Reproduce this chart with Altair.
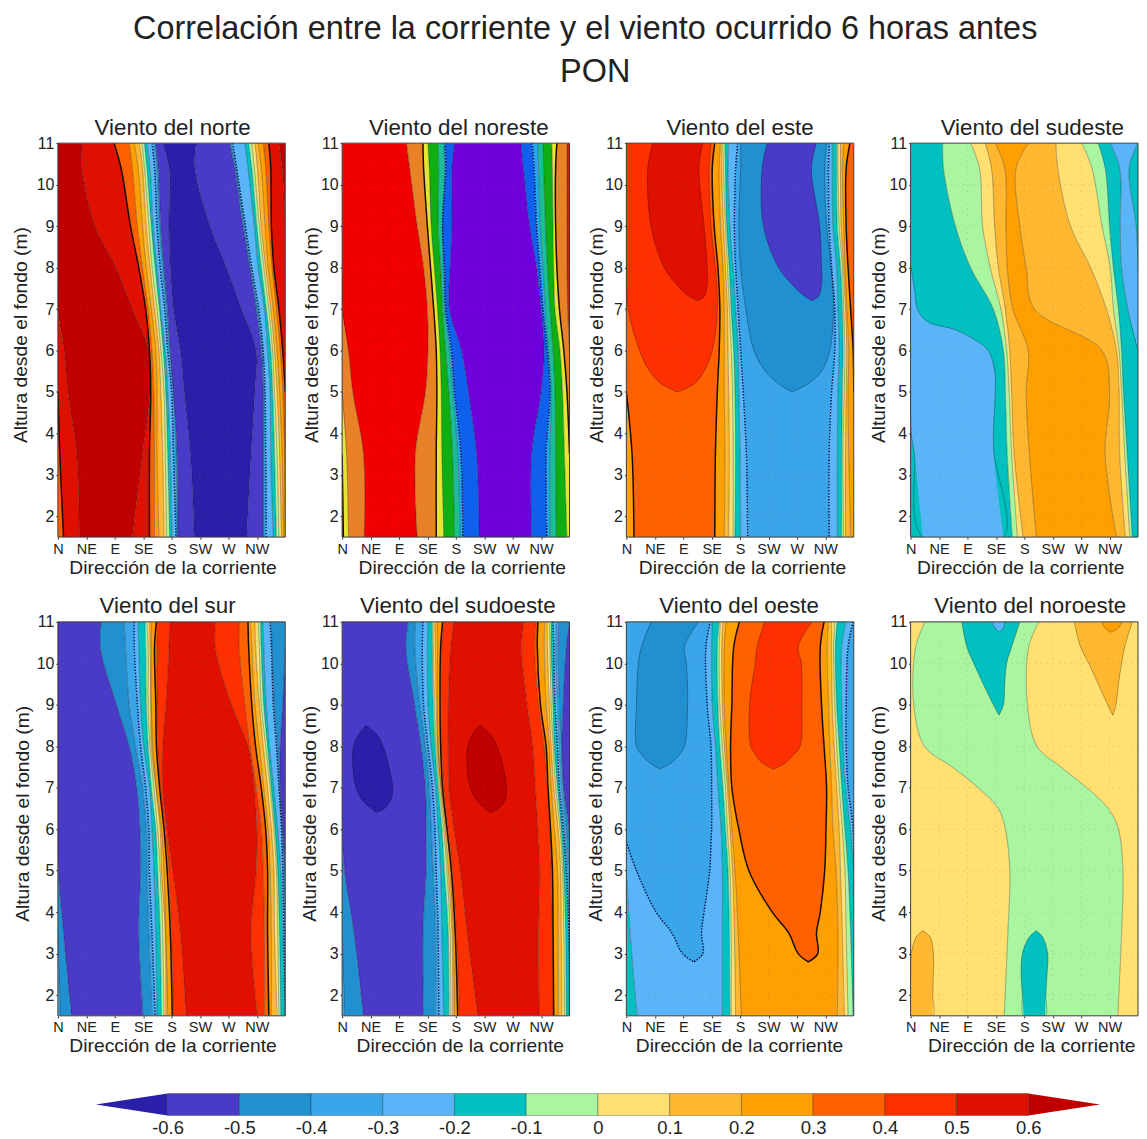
import altair as alt
import pandas as pd

MAIN_TITLE = "Correlación entre la corriente y el viento ocurrido 6 horas antes"
SUB_TITLE = "PON"
DIRS = ["N", "NE", "E", "SE", "S", "SW", "W", "NW"]
DIR_TICKS = [0, 45, 90, 135, 180, 225, 270, 315]
HEIGHT_TICKS = [2, 3, 4, 5, 6, 7, 8, 9, 10, 11]
HEIGHTS = [11, 10.4, 9, 8, 7, 6, 5, 3.5, 1.5]

# colour of each correlation class (0: below -0.6 ... 13: above 0.6), 14+ : the noreste panel's palette
COLORS = ["#2a1fa8", "#4a3ac8", "#2090d0", "#3aa5e8", "#5ab5f8", "#00c0c0", "#aaf5a0",
          "#ffe070", "#ffb830", "#ffa000", "#ff6000", "#ff3000", "#e01000", "#c00000",
          "#f20000", "#e98227", "#e6e632", "#0fae12", "#18c09a", "#22a8e8", "#1060ee", "#6e00dc", "#b83000"]

# ---- Viento del norte
NORTE_BANDS = [10, 12, 13, 12, 10, 9, 8, 7, 6, 5, 4, 3, 2, 1, 0, 1, 2, 3, 4, 5, 6, 7, 8, 9, 10, 12, 13]
NORTE_EDGES = [
    [0, 0, 0, 0, 0, 0, 0, 3, 9],
    [0, 0, 0, 0, 0, 10, 16, 30, 34],
    [39, 38, 59, 92, 118, 144, 146, 134, 118],
    [89, 100, 115, 128, 139, 145, 147, 145, 145],
    [113, 118, 126, 134, 143, 149, 152, 153, 153],
    [121, 127, 134, 140, 148, 155, 157, 157, 160],
    [129, 134, 140, 146, 153, 160, 163, 166, 168],
    [133, 137, 144, 149, 157, 163, 168, 170, 172],
    [137, 141, 148, 154, 161, 167, 171, 174, 177],
    [141, 146, 151, 157, 163, 170, 174, 178, 181],
    [149, 153, 157, 162, 169, 174, 180, 183, 187],
    [153, 157, 161, 166, 172, 177, 183, 187, 189],
    [155, 159, 163, 168, 174, 178, 183, 189, 190],
    [166, 176, 176, 178, 183, 194, 200, 210, 216],
    [219, 217, 241, 267, 291, 314, 312, 306, 299],
    [272, 280, 293, 304, 314, 322, 325, 325, 325],
    [274, 282, 295, 305, 316, 324, 326, 326, 326],
    [277, 283, 297, 307, 318, 325, 328, 329, 330],
    [296, 301, 311, 317, 327, 332, 336, 337, 341],
    [302, 307, 315, 322, 330, 337, 340, 343, 346],
    [307, 311, 319, 326, 334, 340, 343, 347, 350],
    [312, 316, 322, 329, 337, 343, 347, 351, 354],
    [317, 322, 328, 333, 341, 347, 351, 355, 357],
    [325, 329, 334, 339, 346, 352, 356, 359, 360],
    [334, 337, 338, 342, 350, 356, 360, 360, 360],
    [350, 355, 360, 360, 360, 360, 360, 360, 360],
]
NORTE_SOLID = [0, 3, 24]
NORTE_DOTTED = [10, 17]

# ---- Viento del noreste
NORESTE_BANDS = [22, 16, 15, 14, 15, 16, 17, 18, 19, 20, 21, 20, 19, 18, 17, 16, 15, 22]
NORESTE_EDGES = [
    [0, 0, 0, 0, 0, 0, 0, 0, 2],
    [0, 0, 0, 0, 0, 0, 0, 7, 10],
    [0, 0, 0, 0, 0, 10, 17, 34, 35],
    [102, 107, 119, 129, 135, 136, 132, 116, 119],
    [128, 129, 135, 140, 145, 149, 150, 149, 149],
    [136, 138, 141, 146, 151, 155, 157, 158, 161],
    [152, 153, 152, 156, 159, 164, 169, 175, 178],
    [161, 162, 159, 160, 162, 170, 175, 183, 187],
    [163, 164, 159, 162, 164, 173, 178, 188, 191],
    [178, 174, 174, 171, 170, 189, 200, 213, 217],
    [283, 287, 297, 308, 315, 320, 315, 300, 300],
    [301, 304, 308, 313, 318, 325, 329, 323, 324],
    [310, 311, 314, 318, 322, 327, 331, 329, 329],
    [318, 319, 322, 325, 329, 334, 337, 338, 339],
    [332, 333, 334, 335, 337, 345, 349, 352, 356],
    [340, 338, 338, 340, 344, 351, 356, 360, 360],
    [356, 356, 356, 356, 357, 360, 360, 360, 360],
]
NORESTE_SOLID = [0, 4, 15]
NORESTE_DOTTED = [8, 11]

# ---- Viento del este
ESTE_BANDS = [9, 10, 9, 8, 7, 6, 5, 4, 3, 4, 5, 6, 7, 8, 9, 10]
ESTE_EDGES = [
    [0, 0, 0, 0, 0, 0, 0, 9, 12],
    [140, 136, 139, 145, 148, 147, 144, 141, 140],
    [149, 147, 149, 153, 155, 155, 155, 156, 155],
    [152, 151, 154, 157, 160, 161, 162, 163, 162],
    [155, 154, 157, 160, 163, 166, 168, 169, 169],
    [157, 157, 159, 163, 166, 170, 172, 173, 172],
    [162, 161, 164, 169, 173, 177, 178, 180, 181],
    [176, 173, 171, 173, 177, 181, 185, 190, 192],
    [321, 320, 321, 325, 330, 330, 325, 321, 321],
    [326, 326, 327, 333, 335, 337, 335, 334, 334],
    [333, 333, 334, 339, 342, 343, 342, 341, 341],
    [335, 335, 337, 342, 344, 346, 345, 343, 344],
    [339, 339, 340, 344, 347, 349, 348, 347, 347],
    [344, 342, 344, 346, 349, 352, 351, 352, 355],
    [354, 348, 348, 351, 355, 359, 360, 360, 360],
]
ESTE_SOLID = [0, 1, 14]
ESTE_DOTTED = [7, 8]
ESTE_BLOBS = [
    (11, [11, 10.4, 9, 8, 7, 6, 5.5, 5.2, 5], [0, 0, 0, 0, 3, 21, 37, 55, 81], [134, 131, 134, 141, 144, 136, 123, 108, 81]),
    (12, [11, 10.4, 9, 8, 7.6, 7.3, 7.2], [42, 34, 39, 60, 79, 100, 113], [121, 115, 123, 128, 128, 123, 113]),
    (2, [11, 10.4, 9, 8, 7, 6, 5.5, 5.2, 5], [181, 181, 178, 181, 189, 202, 220, 241, 262], [317, 314, 317, 324, 328, 322, 309, 288, 262]),
    (1, [11, 10.4, 9, 8, 7.6, 7.3, 7.2], [223, 215, 217, 241, 262, 283, 293], [301, 293, 306, 309, 309, 304, 293]),
]

# ---- Viento del sudeste
SUDESTE_BANDS = [5, 6, 7, 8, 9, 8, 7, 6, 5, 4, 5]
SUDESTE_EDGES = [
    [51, 52, 71, 95, 131, 147, 150, 153, 161],
    [95, 109, 114, 126, 143, 152, 156, 160, 169],
    [118, 128, 133, 139, 150, 157, 160, 164, 178],
    [134, 149, 151, 153, 162, 186, 183, 188, 199],
    [187, 167, 173, 183, 196, 303, 315, 308, 326],
    [230, 233, 253, 285, 310, 326, 330, 331, 340],
    [271, 287, 303, 316, 321, 330, 334, 339, 347],
    [297, 308, 315, 321, 329, 334, 337, 343, 351],
    [316, 331, 332, 334, 344, 360, 360, 360, 360],
    [360, 346, 357, 360, 360, 360, 360, 360, 360],
]
SUDESTE_SOLID = []
SUDESTE_DOTTED = []
SUDESTE_BLOBS = [
    (4, [8, 7.5, 7, 6.7, 6.5, 6.3, 6, 5.5, 5, 4, 3.5, 1.5], [0, 0, 0, 0, 0, 0, 0, 0, 0, 1, 6, 19],
     [1, 6, 11, 26, 71, 97, 123, 133, 134, 131, 132, 147]),
]

# ---- Viento del sur
SUR_BANDS = [3, 2, 1, 2, 3, 4, 5, 6, 7, 8, 9, 10, 11, 12, 11, 10, 9, 8, 7, 6, 5, 4, 3, 2, 1]
SUR_EDGES = [
    [0, 0, 0, 0, 0, 0, 0, 0, 4],
    [0, 0, 0, 0, 0, 0, 1, 9, 22],
    [69, 67, 93, 113, 125, 130, 131, 128, 135],
    [105, 107, 113, 123, 134, 140, 141, 144, 149],
    [121, 121, 126, 131, 139, 144, 145, 149, 154],
    [127, 128, 131, 136, 145, 149, 152, 155, 157],
    [138, 139, 140, 143, 148, 155, 158, 162, 164],
    [141, 143, 143, 146, 152, 158, 162, 166, 168],
    [145, 146, 147, 148, 155, 162, 164, 170, 171],
    [148, 148, 148, 150, 156, 164, 168, 171, 174],
    [156, 153, 155, 156, 161, 168, 173, 178, 181],
    [158, 157, 157, 158, 162, 170, 176, 180, 183],
    [177, 176, 171, 166, 166, 173, 182, 194, 203],
    [250, 249, 275, 301, 311, 315, 314, 306, 316],
    [287, 287, 296, 304, 314, 322, 325, 327, 327],
    [301, 302, 307, 313, 322, 329, 332, 332, 334],
    [305, 307, 312, 319, 326, 333, 336, 338, 338],
    [312, 313, 319, 325, 332, 338, 342, 343, 347],
    [317, 319, 322, 329, 336, 342, 346, 348, 350],
    [321, 322, 326, 332, 338, 344, 348, 351, 353],
    [325, 326, 330, 335, 342, 348, 353, 356, 360],
    [336, 338, 341, 346, 350, 354, 356, 358, 360],
    [338, 339, 343, 348, 351, 355, 358, 360, 360],
    [360, 360, 356, 352, 352, 356, 360, 360, 360],
]
SUR_SOLID = [10, 15]
SUR_DOTTED = [4, 21]

# ---- Viento del sudoeste
SUDOESTE_BANDS = [3, 2, 1, 2, 3, 4, 5, 6, 7, 8, 9, 10, 11, 12, 11, 10, 9, 8, 7, 6, 5, 4, 3, 2, 1]
SUDOESTE_EDGES = [
    [0, 0, 0, 0, 0, 0, 0, 0, 4],
    [0, 0, 0, 0, 0, 0, 4, 19, 34],
    [105, 101, 115, 125, 132, 133, 133, 128, 129],
    [116, 115, 123, 132, 138, 141, 144, 148, 148],
    [128, 127, 129, 136, 143, 147, 149, 152, 153],
    [136, 135, 136, 141, 148, 152, 156, 158, 161],
    [143, 143, 144, 147, 152, 158, 162, 168, 169],
    [146, 145, 146, 149, 154, 161, 166, 171, 172],
    [148, 148, 149, 151, 156, 163, 168, 174, 175],
    [151, 151, 151, 152, 157, 166, 171, 176, 178],
    [159, 156, 155, 156, 159, 166, 173, 179, 183],
    [161, 158, 157, 158, 161, 168, 175, 181, 186],
    [177, 172, 168, 168, 169, 177, 187, 198, 215],
    [288, 284, 293, 302, 306, 310, 313, 311, 312],
    [308, 305, 311, 320, 325, 329, 331, 333, 334],
    [310, 309, 314, 323, 326, 330, 333, 334, 335],
    [321, 320, 323, 328, 331, 336, 341, 342, 342],
    [325, 325, 328, 331, 335, 342, 346, 347, 348],
    [328, 329, 331, 334, 338, 345, 349, 351, 352],
    [331, 331, 334, 336, 341, 347, 351, 354, 355],
    [334, 335, 337, 341, 344, 350, 355, 359, 360],
    [339, 338, 341, 344, 347, 352, 357, 360, 360],
    [343, 342, 344, 347, 350, 355, 360, 360, 360],
    [360, 355, 350, 348, 351, 359, 360, 360, 360],
]
SUDOESTE_SOLID = [10, 15]
SUDOESTE_DOTTED = [4, 20]
SUDOESTE_BLOBS = [
    (0, [8.5, 8.3, 8, 7.5, 7, 6.7, 6.5, 6.4], [38, 27, 18, 17, 22, 32, 46, 54], [38, 54, 65, 74, 80, 77, 67, 54]),
    (13, [8.5, 8.3, 8, 7.5, 7, 6.7, 6.5, 6.4], [218, 207, 199, 198, 203, 213, 226, 236], [218, 234, 245, 255, 260, 258, 247, 236]),
]

# ---- Viento del oeste
OESTE_BANDS = [5, 4, 5, 6, 7, 8, 9, 8, 7, 6, 5, 4, 3]
OESTE_EDGES = [
    [0, 0, 0, 0, 0, 0, 0, 6, 17],
    [136, 135, 136, 141, 145, 150, 152, 152, 152],
    [147, 144, 145, 148, 153, 157, 161, 163, 164],
    [149, 147, 148, 152, 157, 160, 164, 166, 166],
    [153, 151, 152, 155, 160, 164, 168, 171, 173],
    [158, 155, 155, 158, 162, 167, 172, 177, 182],
    [320, 318, 320, 322, 325, 327, 332, 335, 334],
    [325, 325, 326, 329, 333, 337, 339, 342, 345],
    [330, 328, 330, 333, 337, 342, 346, 348, 351],
    [334, 331, 333, 337, 341, 346, 351, 355, 359],
    [348, 341, 341, 343, 347, 355, 360, 360, 360],
    [359, 351, 348, 348, 351, 359, 360, 360, 360],
]
OESTE_SOLID = []
OESTE_DOTTED = [11]
OESTE_BLOBS = [
    (3, [11, 10.4, 9, 8, 7, 6, 5.7, 5, 4, 3.5, 3, 2.8], [0, 0, 0, 0, 0, 0, 0, 16, 47, 72, 89, 107],
     [133, 126, 128, 134, 135, 135, 134, 132, 123, 119, 121, 107]),
    (2, [11, 10.4, 10, 9, 8, 7.8, 7.6, 7.45], [39, 24, 19, 16, 16, 24, 37, 53], [114, 92, 95, 97, 92, 84, 71, 53]),
    (10, [11, 10.4, 9, 8, 7, 6, 5, 4, 3.5, 3, 2.8], [179, 170, 167, 165, 167, 178, 194, 231, 257, 272, 288],
     [313, 307, 309, 313, 317, 316, 314, 307, 301, 303, 288]),
    (11, [11, 10.4, 10, 9, 8, 7.8, 7.6, 7.45], [219, 207, 204, 195, 197, 204, 215, 233], [294, 272, 277, 278, 275, 265, 252, 233]),
]

# ---- Viento del noroeste
NOROESTE_HEIGHTS = [11, 10.4, 9, 8, 7.5, 7, 6.5, 6, 5, 3.5, 1.5]
NOROESTE_BANDS = [7, 6, 7]
NOROESTE_EDGES = [
    [23, 8, 5, 22, 66, 107, 139, 150, 157, 154, 148],
    [203, 187, 185, 200, 238, 279, 313, 329, 336, 334, 328],
]
NOROESTE_BLOBS = [
    (5, [11, 10.4, 10, 9.5, 9, 8.75], [81, 89, 100, 115, 131, 140], [173, 160, 152, 149, 147, 140]),
    (4, [11, 10.85, 10.75], [128, 134, 140], [149, 147, 140]),
    (8, [11, 10.4, 10, 9.5, 9, 8.75], [259, 269, 282, 297, 312, 320], [351, 339, 334, 329, 325, 320]),
    (9, [11, 10.85, 10.75], [303, 308, 316], [334, 329, 316]),
    (8, [3.55, 3.4, 3, 2.5, 2, 1.5], [19, 9, 1, 0, 0, 0], [19, 31, 36, 36, 35, 35]),
    (5, [3.55, 3.4, 3, 2.5, 2, 1.5], [199, 188, 177, 175, 177, 179], [199, 209, 217, 216, 214, 213]),
]

PANELS = [
    dict(name="Viento del norte", bands=NORTE_BANDS, edges=NORTE_EDGES, solid=NORTE_SOLID, dotted=NORTE_DOTTED),
    dict(name="Viento del noreste", bands=NORESTE_BANDS, edges=NORESTE_EDGES, solid=NORESTE_SOLID, dotted=NORESTE_DOTTED),
    dict(name="Viento del este", bands=ESTE_BANDS, edges=ESTE_EDGES, solid=ESTE_SOLID, dotted=ESTE_DOTTED, blobs=ESTE_BLOBS),
    dict(name="Viento del sudeste", bands=SUDESTE_BANDS, edges=SUDESTE_EDGES, solid=SUDESTE_SOLID, dotted=SUDESTE_DOTTED, blobs=SUDESTE_BLOBS),
    dict(name="Viento del sur", bands=SUR_BANDS, edges=SUR_EDGES, solid=SUR_SOLID, dotted=SUR_DOTTED),
    dict(name="Viento del sudoeste", bands=SUDOESTE_BANDS, edges=SUDOESTE_EDGES, solid=SUDOESTE_SOLID, dotted=SUDOESTE_DOTTED, blobs=SUDOESTE_BLOBS),
    dict(name="Viento del oeste", bands=OESTE_BANDS, edges=OESTE_EDGES, solid=OESTE_SOLID, dotted=OESTE_DOTTED, blobs=OESTE_BLOBS),
    dict(name="Viento del noroeste", bands=NOROESTE_BANDS, edges=NOROESTE_EDGES, heights=NOROESTE_HEIGHTS, blobs=NOROESTE_BLOBS),
]

# colour bar
CB_LIMITS = [-0.6, -0.5, -0.4, -0.3, -0.2, -0.1, 0, 0.1, 0.2, 0.3, 0.4, 0.5, 0.6]
CB_LABELS = ["-0.6", "-0.5", "-0.4", "-0.3", "-0.2", "-0.1", "0", "0.1", "0.2", "0.3", "0.4", "0.5", "0.6"]

FONT = "Liberation Sans"
TEXT = "#222222"
PW, PH = 228, 395
XDOM = [0, 360]
YDOM = [1.5, 11]
CURVE = "catmull-rom"

# per-panel nudges of the titles (the original figure was pasted together by hand)
TITLE_DX = [1, 3, 0, 8, -4, 2, -1, 6]
XT_X = [115, 120, 116, 110, 115, 118, 113, 121]
YT_X = [-27, -21, -20, -22, -25, -23, -21, -22]


def line_rows(xs, ys, key):
    rows = []
    n = len(xs)
    for i in range(n):
        inner = lambda k: 0 < xs[k] < 360
        keep = inner(i) or (i > 0 and inner(i - 1)) or (i < n - 1 and inner(i + 1))
        if keep:
            rows.append(dict(key=key, i=i, x=xs[i], y=ys[i]))
    return rows


def panel(p, idx):
    heights = p.get("heights", HEIGHTS)
    area_rows = []
    thin, solid, dotted = [], [], []
    edges = p["edges"]
    for b, lev in enumerate(p["bands"]):
        for h, y in enumerate(heights):
            left = edges[b - 1][h] if b > 0 else 0
            right = edges[b][h] if b < len(edges) else 360
            area_rows.append(dict(key=b, color=COLORS[lev], y=y, x=left, x2=right))
    for e, xs in enumerate(edges):
        rows = line_rows(xs, heights, f"e{e}")
        if e in p.get("solid", []):
            solid += rows
        elif e in p.get("dotted", []):
            dotted += rows
        else:
            thin += rows

    xsc = alt.Scale(domain=XDOM, nice=False, zero=False)
    ysc = alt.Scale(domain=YDOM, nice=False, zero=False)
    label_expr = "[" + ",".join(f"'{d}'" for d in DIRS) + "][datum.value / 45]"
    xax = alt.Axis(values=DIR_TICKS, labelExpr=label_expr, title="Dirección de la corriente", grid=False,
                   tickSize=2, tickColor=TEXT, domain=False, labelFont=FONT, labelFontSize=14.5, labelColor=TEXT,
                   labelPadding=3, labelOverlap=False, labelFlush=False, titleFont=FONT, titleFontSize=19.3, titleFontWeight="normal",
                   titleColor=TEXT, titleX=XT_X[idx], titleY=30, titleBaseline="middle")
    yax = alt.Axis(values=HEIGHT_TICKS, title="Altura desde el fondo (m)", grid=False, tickSize=2, tickColor=TEXT,
                   domain=False, labelFont=FONT, labelFontSize=16, labelColor=TEXT, labelPadding=2, labelOverlap=False,
                   labelFlush=False, titleFont=FONT, titleFontSize=19.3, titleFontWeight="normal", titleColor=TEXT,
                   titleX=YT_X[idx], titleY=192)
    X = alt.X("x:Q", scale=xsc, axis=xax)
    Y = alt.Y("y:Q", scale=ysc, axis=yax)

    base = alt.Chart(pd.DataFrame(area_rows)).mark_area(orient="horizontal", stroke=None, interpolate=CURVE, clip=True).encode(
        x=X, x2="x2:Q", y=Y, color=alt.Color("color:N", scale=None), detail="key:N")
    layers = [base]

    def add_lines(rows, **kw):
        if rows:
            layers.append(alt.Chart(pd.DataFrame(rows)).mark_line(interpolate=CURVE, clip=True, **kw).encode(
                x=X, y=Y, detail="key:N", order="i:Q"))

    add_lines(thin, color="#000000", opacity=0.33, strokeWidth=0.9)
    for b, (lev, hs, ls, rs) in enumerate(p.get("blobs", [])):
        d = pd.DataFrame(dict(y=hs, x=ls, x2=rs))
        layers.append(alt.Chart(d).mark_area(orient="horizontal", color=COLORS[lev], interpolate=CURVE, clip=True).encode(
            x=X, x2="x2:Q", y=Y))
        xs = list(ls) + list(rs)[::-1]
        ys = list(hs) + list(hs)[::-1]
        rows = [r for r in line_rows(xs, ys, f"b{b}")]
        if lev == 3:
            dotted += rows
        elif lev == 10:
            solid += rows
        else:
            add_lines(rows, color="#000000", opacity=0.33, strokeWidth=0.9)
    add_lines(solid, color="#1a0a00", strokeWidth=1.5)
    add_lines(dotted, color="#04104a", strokeWidth=1.4, strokeDash=[1.5, 1.5])

    grid_v = alt.Chart(pd.DataFrame(dict(x=DIR_TICKS[1:]))).mark_rule(color="#707070", opacity=0.35, strokeWidth=1, strokeDash=[1, 5]).encode(x=X)
    grid_h = alt.Chart(pd.DataFrame(dict(y=HEIGHT_TICKS[:-1]))).mark_rule(color="#707070", opacity=0.35, strokeWidth=1, strokeDash=[1, 5]).encode(y=Y)
    frame = alt.Chart(pd.DataFrame(dict(x=[XDOM[0]], x2=[XDOM[1]], y=[YDOM[0]], y2=[YDOM[1]]))).mark_rect(
        fill=None, stroke="#3a3a3a", strokeWidth=1).encode(x=X, x2="x2:Q", y=Y, y2="y2:Q")
    layers += [grid_v, grid_h, frame]
    return alt.layer(*layers).properties(
        width=PW, height=PH,
        title=alt.TitleParams(p["name"], font=FONT, fontSize=22.4, fontWeight="normal", color=TEXT, offset=0, dy=4,
                              anchor="middle", dx=TITLE_DX[idx]))


grid = alt.concat(*[panel(p, i) for i, p in enumerate(PANELS)], columns=4,
                  spacing={"row": 85, "column": 57}, bounds="flush").properties(
    title=alt.TitleParams(SUB_TITLE, font=FONT, fontSize=32.5, fontWeight="normal", color=TEXT, anchor="middle", offset=28, dx=20))

# colour bar
cb_x = alt.Scale(domain=[-0.753, 0.753], nice=False, zero=False)
cb_y = alt.Scale(domain=[0, 1], nice=False)
cb_rows = [dict(a=CB_LIMITS[i], b=CB_LIMITS[i + 1], color=COLORS[i + 1]) for i in range(12)]
labels_expr = "[" + ",".join(f"'{t}'" for t in CB_LABELS) + "][round((datum.value + 0.6) * 10)]"
CBX = alt.X("a:Q", scale=cb_x, axis=alt.Axis(values=CB_LIMITS, labelExpr=labels_expr, title=None, domain=False, ticks=False,
                                             labelFont=FONT, labelFontSize=18.5, labelColor=TEXT, labelPadding=3, labelFlush=False,
                                             labelOverlap=False, grid=False))
CBY = alt.Y("lo:Q", scale=cb_y, axis=None)
bars = alt.Chart(pd.DataFrame([dict(r, lo=0, hi=1) for r in cb_rows])).mark_rect(stroke="#000000", strokeOpacity=0.35, strokeWidth=0.8).encode(
    x=CBX, x2="b:Q", y=CBY, y2="hi:Q", color=alt.Color("color:N", scale=None))
tri_l = alt.Chart(pd.DataFrame(dict(a=[-0.7, -0.6], lo=[0.5, 0], hi=[0.5, 1]))).mark_area(color=COLORS[0]).encode(
    x=CBX, y=CBY, y2="hi:Q")
tri_r = alt.Chart(pd.DataFrame(dict(a=[0.6, 0.7], lo=[0, 0.5], hi=[1, 0.5]))).mark_area(color=COLORS[13]).encode(
    x=CBX, y=CBY, y2="hi:Q")
colorbar = alt.layer(tri_l, tri_r, bars).properties(width=1083, height=22)

chart = alt.vconcat(grid, colorbar, spacing=36).properties(
    title=alt.TitleParams(MAIN_TITLE, font=FONT, fontSize=32.5, fontWeight="normal", color=TEXT, anchor="middle", offset=11, dx=10),
    padding={"left": 3, "right": 0, "top": 3, "bottom": 0},
).configure_view(stroke="transparent")

chart.save("out.html", embed_options={"renderer": "svg", "actions": False})
